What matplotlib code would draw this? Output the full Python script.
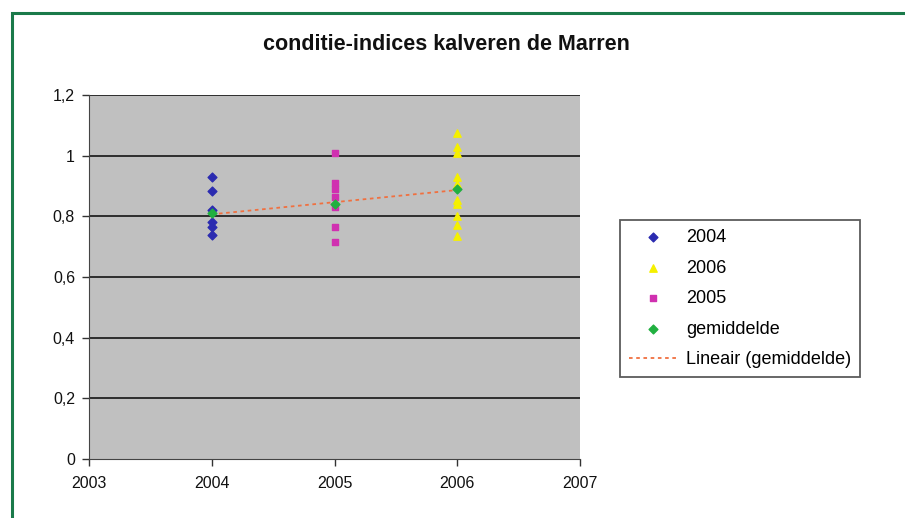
import matplotlib
matplotlib.use("Agg")
import matplotlib.pyplot as plt
from matplotlib.patches import Rectangle
import numpy as np

plt.rcParams['font.family'] = ['Liberation Sans', 'DejaVu Sans']

title = "conditie-indices kalveren de Marren"
y2004 = [0.93, 0.885, 0.82, 0.78, 0.765, 0.74]
y2005 = [1.01, 0.91, 0.89, 0.865, 0.83, 0.765, 0.715]
y2006 = [1.075, 1.03, 1.01, 0.93, 0.905, 0.855, 0.84, 0.80, 0.77, 0.735]
mean_years = [2004, 2005, 2006]
mean_vals = [0.81, 0.84, 0.89]
x_ticks = [2003, 2004, 2005, 2006, 2007]
y_ticks = [0, 0.2, 0.4, 0.6, 0.8, 1.0, 1.2]
y_labels = ["0", "0,2", "0,4", "0,6", "0,8", "1", "1,2"]

fig = plt.figure(figsize=(9.05, 5.18), dpi=100)
fig.patch.set_facecolor('white')
fig.patches.append(Rectangle((12/905, -0.05), 1.0, 1 - 13/518 + 0.05,
                             transform=fig.transFigure, fill=False,
                             edgecolor='#1a7a4a', linewidth=2.2))

ax = fig.add_axes([89/905, 1 - 459/518, 491/905, 364/518])
ax.set_facecolor('#c0c0c0')

for yv in y_ticks[1:]:
    ax.axhline(yv, color='#222222', linewidth=1.3, zorder=1)

ax.scatter([2004]*len(y2004), y2004, marker='D', s=20, color='#2b2bb0', zorder=3, label='2004')
ax.scatter([2006]*len(y2006), y2006, marker='^', s=28, color='#f5f000', zorder=3, label='2006')
ax.scatter([2005]*len(y2005), y2005, marker='s', s=15, color='#d030b0', zorder=3, label='2005')
ax.scatter(mean_years, mean_vals, marker='D', s=20, color='#20b040', zorder=4, label='gemiddelde')

coef = np.polyfit(mean_years, mean_vals, 1)
xs = np.array([mean_years[0], mean_years[-1]])
ax.plot(xs, np.polyval(coef, xs), linestyle=(0, (2, 2)), color='#f07040', linewidth=1.3,
        zorder=2, label='Lineair (gemiddelde)')

ax.set_xlim(2003, 2007)
ax.set_ylim(0, 1.2)
ax.set_xticks(x_ticks)
ax.set_xticklabels([str(v) for v in x_ticks])
ax.set_yticks(y_ticks)
ax.set_yticklabels(y_labels)
ax.tick_params(axis='both', direction='out', length=5, width=1, color='#333333',
               labelsize=11.5, labelcolor='#111111')
ax.tick_params(axis='x', pad=7)
ax.tick_params(axis='y', pad=5)
for side in ['top', 'right']:
    ax.spines[side].set_visible(False)
ax.spines['left'].set_color('#444444')
ax.spines['bottom'].set_color('#444444')

fig.text(446/905, 1 - 44/518, title, ha='center', va='center',
         fontsize=15.5, fontweight='bold', color='#111111')

leg = ax.legend(loc='upper left', bbox_to_anchor=(620/905, 1 - 220/518),
                bbox_transform=fig.transFigure, frameon=True, fancybox=False,
                edgecolor='#333333', fontsize=13, handlelength=2.6, labelspacing=0.75,
                borderpad=0.5, borderaxespad=0, handletextpad=0.55, scatterpoints=1)
leg.get_frame().set_linewidth(1.3)

fig.savefig('out.png', dpi=100)
